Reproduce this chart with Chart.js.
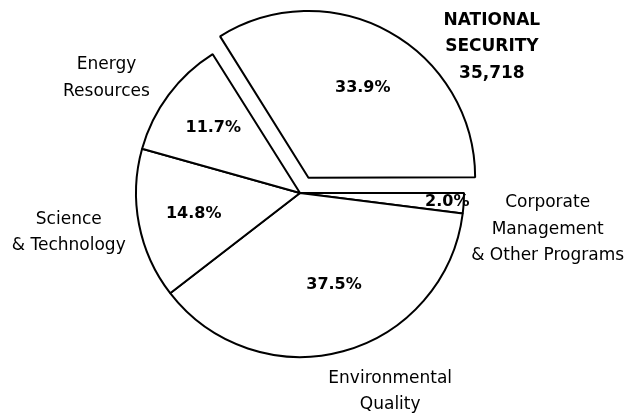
<!DOCTYPE html>
<html>
<head>
<meta charset="utf-8">
<script src="https://cdn.jsdelivr.net/npm/chart.js@4"></script>
<style>
    html, body { margin: 0; padding: 0; background: #fff; }
    #wrap { width: 626px; height: 417px; }
</style>
</head>
<body>
<div id="wrap"><canvas id="budgetChart" width="626" height="417"></canvas></div>
<script>
// ===== DATA =====
const categories = ['NATIONAL SECURITY', 'Corporate Management & Other Programs', 'Environmental Quality', 'Science & Technology', 'Energy Resources'];
const shares = [33.9, 2.0, 37.5, 14.8, 11.7];
const nationalSecurityAmount = '35,718';
const nameLines = [
    ['NATIONAL', 'SECURITY', nationalSecurityAmount],
    ['Corporate', 'Management', '& Other Programs'],
    ['Environmental', 'Quality'],
    ['Science', '& Technology'],
    ['Energy', 'Resources']
];

// ===== LABEL PLACEMENT (radius units / degrees) =====
const pctPlace = [
    { r: 0.745, shift: 2 },
    { r: 0.90, shift: 0 },
    { r: 0.60, shift: -5 },
    { r: 0.66, shift: 0 },
    { r: 0.66, shift: 0 }
];
const namePlace = [
    { dx: 1.17, dy: -0.89, bold: true },
    { dx: 1.51, dy: 0.22 },
    { dx: 0.55, dy: 1.21 },
    { dx: -1.41, dy: 0.24 },
    { dx: -1.18, dy: -0.70 }
];

document.addEventListener('DOMContentLoaded', () => {
    const ctx = document.getElementById('budgetChart');

    new Chart(ctx, {
        type: 'pie',
        data: {
            labels: categories,
            datasets: [{
                data: shares,
                backgroundColor: '#ffffff',
                borderColor: '#000000',
                borderWidth: 2,
                offset: [70, 0, 0, 0, 0]
            }]
        },
        options: {
            responsive: false,
            animation: false,
            rotation: 90 - shares[0] / shares.reduce((a, b) => a + b, 0) * 360,
            radius: 164,
            layout: { padding: { left: 0, right: 26, top: 0, bottom: 31 } },
            plugins: {
                legend: { display: false },
                tooltip: { enabled: false }
            }
        },
        plugins: [{
            id: 'sliceText',
            afterDraw(chart) {
                const c = chart.ctx;
                const arcs = chart.getDatasetMeta(0).data;
                c.save();
                c.fillStyle = '#000';
                c.textAlign = 'center';
                c.textBaseline = 'middle';
                arcs.forEach((arc, i) => {
                    const { x, y, startAngle, endAngle, outerRadius } =
                        arc.getProps(['x', 'y', 'startAngle', 'endAngle', 'outerRadius'], true);

                    // percentage inside the slice
                    const a = (startAngle + endAngle) / 2 + pctPlace[i].shift * Math.PI / 180;
                    const pr = outerRadius * pctPlace[i].r;
                    c.font = 'bold 16px "DejaVu Sans"';
                    c.fillText(shares[i].toFixed(1) + '%', x + Math.cos(a) * pr, y + Math.sin(a) * pr);

                    // category name outside
                    const p = namePlace[i];
                    const lines = nameLines[i];
                    const lh = 26.5;
                    const cx = x + p.dx * outerRadius;
                    const cy = y + p.dy * outerRadius - (lines.length - 1) * lh / 2;
                    c.font = (p.bold ? 'bold ' : '') + '17px "DejaVu Sans"';
                    lines.forEach((t, k) => c.fillText(t, cx, cy + k * lh));
                });
                c.restore();
            }
        }]
    });
});
</script>
</body>
</html>
